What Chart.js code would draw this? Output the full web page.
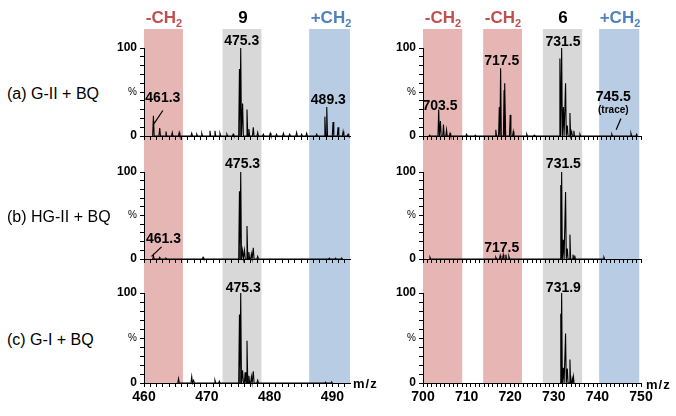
<!DOCTYPE html>
<html>
<head>
<meta charset="utf-8">
<script src="https://cdn.jsdelivr.net/npm/chart.js@4.4.1/dist/chart.umd.min.js"></script>
<style>
body { margin: 0; background: #fff; font-family: "Liberation Sans", Arial, sans-serif; }
#wrap { position: relative; width: 676px; height: 416px; overflow: hidden; }
canvas { position: absolute; }
.t { position: absolute; top: 9px; font-weight: bold; font-size: 17px; line-height: 18px; transform: translateX(-50%); white-space: nowrap; }
.t sub { font-size: 11px; line-height: 0; }
.red { color: #c0504d; }
.blue { color: #4f81bd; }
.row { position: absolute; left: 7px; font-size: 16px; line-height: 18px; transform: translateY(-50%); white-space: nowrap; }
.mz { position: absolute; font-weight: bold; font-size: 13px; letter-spacing: 1px; line-height: 14px; }
</style>
</head>
<body>
<div id="wrap">
  <canvas id="la" width="280" height="140" style="left:100px;top:0px"></canvas>
  <canvas id="ra" width="296" height="140" style="left:380px;top:0px"></canvas>
  <canvas id="lb" width="280" height="123" style="left:100px;top:140px"></canvas>
  <canvas id="rb" width="296" height="123" style="left:380px;top:140px"></canvas>
  <canvas id="lc" width="280" height="153" style="left:100px;top:263px"></canvas>
  <canvas id="rc" width="296" height="153" style="left:380px;top:263px"></canvas>

  <div class="t red" style="left:164px">-CH<sub>2</sub></div>
  <div class="t" style="left:243px">9</div>
  <div class="t blue" style="left:331px">+CH<sub>2</sub></div>
  <div class="t red" style="left:443px">-CH<sub>2</sub></div>
  <div class="t red" style="left:503px">-CH<sub>2</sub></div>
  <div class="t" style="left:563px">6</div>
  <div class="t blue" style="left:620px">+CH<sub>2</sub></div>

  <div class="row" style="top:94px">(a) G-II + BQ</div>
  <div class="row" style="top:217px">(b) HG-II + BQ</div>
  <div class="row" style="top:340px">(c) G-I + BQ</div>

  <div class="mz" style="left:353px;top:377px">m/z</div>
  <div class="mz" style="left:646px;top:378px">m/z</div>
</div>

<script>
// axis ranges (m/z)
const leftRange = [460, 492.8];
const rightRange = [700, 750];

// shaded windows: -CH2 / parent / +CH2
const leftBands = [[460, 466.2], [472.5, 478.7], [486.3, 492.8]];
const leftKinds = ['minus', 'parent', 'plus'];
const rightBands = [[700, 709], [713.8, 722.7], [727.5, 736.5], [740.4, 749.6]];
const rightKinds = ['minus', 'minus', 'parent', 'plus'];

// (a) G-II + BQ
const mzA9 = [461.5, 462.5, 463.5, 464.5, 465.6, 467.6, 468.4, 469.2, 470.5, 471.3, 472.1, 473.2, 474.2,
  475.2, 475.4, 475.7, 476.4, 476.7, 477.4, 478.1, 479.0, 480.1, 481.1, 482.2, 483.2, 484.3, 485.1, 485.9, 487.5,
  488.8, 489.1, 490.1, 490.9, 491.7, 492.5];
const intA9 = [23, 9, 5, 4, 4, 3, 2, 3, 6, 6, 3, 2, 2,
  76, 100, 37, 30, 8, 10, 4, 2, 3, 2, 3, 2, 4, 2, 3, 2,
  22, 33, 16, 10, 5, 2];
const mzA6 = [701.5, 703.6, 704.0, 704.7, 705.4, 706.2, 710.0, 712.0, 716.7, 717.5, 717.8, 718.6, 718.8, 720.0, 720.7,
  723.8, 725.5, 731.4, 731.8, 732.2, 732.7, 733.1, 733.7, 734.1, 734.6, 736.0, 743.3, 747.7, 749.0];
const intA6 = [1, 30, 17, 13, 7, 3, 2, 1, 7, 33, 77, 52, 60, 24, 5,
  2, 1, 88, 100, 33, 60, 12, 26, 5, 6, 2, 2, 3, 2];

// (b) HG-II + BQ
const mzB9 = [461.5, 462.5, 463.5, 469.4, 475.2, 475.4, 475.7, 476.0, 476.4, 476.7, 477.1, 477.4, 478.1, 489.5, 490.5, 491.5];
const intB9 = [4, 2, 1, 2, 78, 100, 10, 10, 38, 8, 6, 13, 3, 1, 1, 1];
const mzB6 = [701.6, 716.7, 717.7, 718.4, 719.0, 719.7, 731.6, 731.8, 732.2, 732.7, 733.1, 733.7, 734.4, 734.8, 741.5];
const intB6 = [2, 2, 4, 5, 5, 3, 85, 100, 22, 77, 12, 28, 5, 4, 2];

// (c) G-I + BQ
const mzC9 = [465.5, 467.6, 467.9, 471.3, 472.0, 475.2, 475.4, 475.7, 476.1, 476.4, 476.7, 477.1, 477.4, 478.1, 488.9, 489.9];
const intC9 = [5, 7, 3, 3, 2, 76, 100, 14, 12, 47, 8, 7, 13, 3, 1, 1];
const mzC6 = [731.6, 731.8, 732.2, 732.7, 733.1, 733.7, 734.2, 734.5];
const intC6 = [77, 100, 17, 55, 16, 26, 5, 7];

// peak tags [text, m/z, %] and leader lines [m/z0, %0, m/z1, %1]
const tagsA9 = [['461.3', 463.0, 43], ['475.3', 475.55, 108], ['489.3', 489.35, 41]];
const leadA9 = [[461.6, 14, 463.0, 29]];
const tagsA6 = [['703.5', 703.9, 34], ['717.5', 718.05, 85], ['731.5', 732.1, 107], ['745.5', 743.65, 44], ['(trace)', 743.65, 29.5]];
const leadA6 = [[745.4, 20, 744.3, 7]];
const tagsB9 = [['461.3', 463.1, 23], ['475.3', 475.7, 109]];
const leadB9 = [[461.2, 3, 462.8, 14]];
const tagsB6 = [['731.5', 732.2, 109], ['717.5', 718.05, 12]];
const tagsC9 = [['475.3', 475.8, 105]];
const tagsC6 = [['731.9', 732.2, 105]];

const FONT = '"Liberation Sans", Arial, sans-serif';
const bandFill = { minus: '#e6b6b5', parent: '#d8d8d8', plus: '#b8cce4' };

// turn a peak list into a stick/profile trace
function profile(mz, inten, hw) {
  const pts = [];
  mz.forEach((m, i) => {
    pts.push({ x: m - hw, y: 0 }, { x: m, y: inten[i] }, { x: m + hw, y: 0 });
  });
  return pts;
}

const panelPlugin = {
  id: 'panel',
  beforeDraw(chart, args, o) {
    const { ctx, chartArea } = chart;
    const xs = chart.scales.x;
    const bottom = o.toArea ? chartArea.bottom : chart.height;
    const top = chartArea.top - o.above;
    ctx.save();
    o.bands.forEach((b, i) => {
      const x0 = xs.getPixelForValue(b[0]);
      const x1 = xs.getPixelForValue(b[1]);
      ctx.fillStyle = bandFill[o.kinds[i]];
      ctx.fillRect(x0, top, x1 - x0, bottom - top);
    });
    ctx.restore();
  },
  afterDraw(chart, args, o) {
    const { ctx } = chart;
    const xs = chart.scales.x, ys = chart.scales.y;
    ctx.save();
    ctx.fillStyle = '#000';
    ctx.textAlign = 'center';
    ctx.textBaseline = 'middle';
    o.tags.forEach(t => {
      ctx.font = t[0].startsWith('(') ? 'bold 10px ' + FONT : 'bold 14px ' + FONT;
      ctx.fillText(t[0], xs.getPixelForValue(t[1]), ys.getPixelForValue(t[2]));
    });
    ctx.strokeStyle = '#000';
    ctx.lineWidth = 1.2;
    o.leads.forEach(l => {
      ctx.beginPath();
      ctx.moveTo(xs.getPixelForValue(l[0]), ys.getPixelForValue(l[1]));
      ctx.lineTo(xs.getPixelForValue(l[2]), ys.getPixelForValue(l[3]));
      ctx.stroke();
    });
    ctx.restore();
  }
};

function makePanel(id, range, bands, kinds, mz, inten, tags, leads, lay) {
  const hw = range[0] < 600 ? 0.12 : 0.16;
  return new Chart(document.getElementById(id), {
    type: 'line',
    data: {
      datasets: [{
        data: profile(mz, inten, hw),
        borderColor: '#000',
        borderWidth: 1.1,
        pointRadius: 0,
        tension: 0,
        fill: false,
        clip: false
      }]
    },
    options: {
      responsive: false,
      animation: false,
      layout: { padding: { top: lay.top, right: lay.right, left: 0, bottom: 0 } },
      plugins: {
        legend: { display: false },
        tooltip: { enabled: false },
        panel: { bands: bands, kinds: kinds, tags: tags, leads: leads, above: lay.above, toArea: lay.toArea }
      },
      scales: {
        x: {
          type: 'linear',
          min: range[0],
          max: range[1],
          afterFit: s => { s.height = lay.xh; },
          border: { display: true, color: '#000', width: 1 },
          grid: { drawOnChartArea: false, color: '#000', tickLength: 4 },
          ticks: {
            display: lay.showX,
            stepSize: 1,
            autoSkip: false,
            includeBounds: false,
            maxRotation: 0,
            padding: 2,
            color: '#000',
            font: { size: 14, weight: 'bold', family: FONT },
            callback: v => (v % 10 === 0 ? v : '')
          }
        },
        y: {
          min: 0,
          max: 100,
          // fixed width, and no extra room for the end labels
          afterFit: s => { s.width = lay.yw; s.paddingTop = 0; s.paddingBottom = 0; },
          border: { display: true, color: '#000', width: 1 },
          grid: { drawOnChartArea: false, color: '#000', tickLength: 4 },
          ticks: {
            stepSize: 10,
            autoSkip: false,
            padding: 3,
            color: '#000',
            font: c => (c.tick && c.tick.value === 50 ? { size: 10, family: FONT } : { size: 12, weight: 'bold', family: FONT }),
            callback: v => (v === 100 ? '100' : v === 50 ? '%' : v === 0 ? '0' : '')
          }
        }
      }
    },
    plugins: [panelPlugin]
  });
}

const rowA = { top: 48, xh: 4, showX: false, above: 19, toArea: false };
const rowB = { top: 32, xh: 4, showX: false, above: 32, toArea: false };
const rowC = { top: 30, xh: 33, showX: true, above: 30, toArea: true };

makePanel('la', leftRange, leftBands, leftKinds, mzA9, intA9, tagsA9, leadA9, { ...rowA, yw: 44, right: 30 });
makePanel('ra', rightRange, rightBands, rightKinds, mzA6, intA6, tagsA6, leadA6, { ...rowA, yw: 43, right: 35 });
makePanel('lb', leftRange, leftBands, leftKinds, mzB9, intB9, tagsB9, leadB9, { ...rowB, yw: 44, right: 30 });
makePanel('rb', rightRange, rightBands, rightKinds, mzB6, intB6, tagsB6, [], { ...rowB, yw: 43, right: 35 });
makePanel('lc', leftRange, leftBands, leftKinds, mzC9, intC9, tagsC9, [], { ...rowC, yw: 44, right: 30 });
makePanel('rc', rightRange, rightBands, rightKinds, mzC6, intC6, tagsC6, [], { ...rowC, yw: 43, right: 35 });
</script>
</body>
</html>
